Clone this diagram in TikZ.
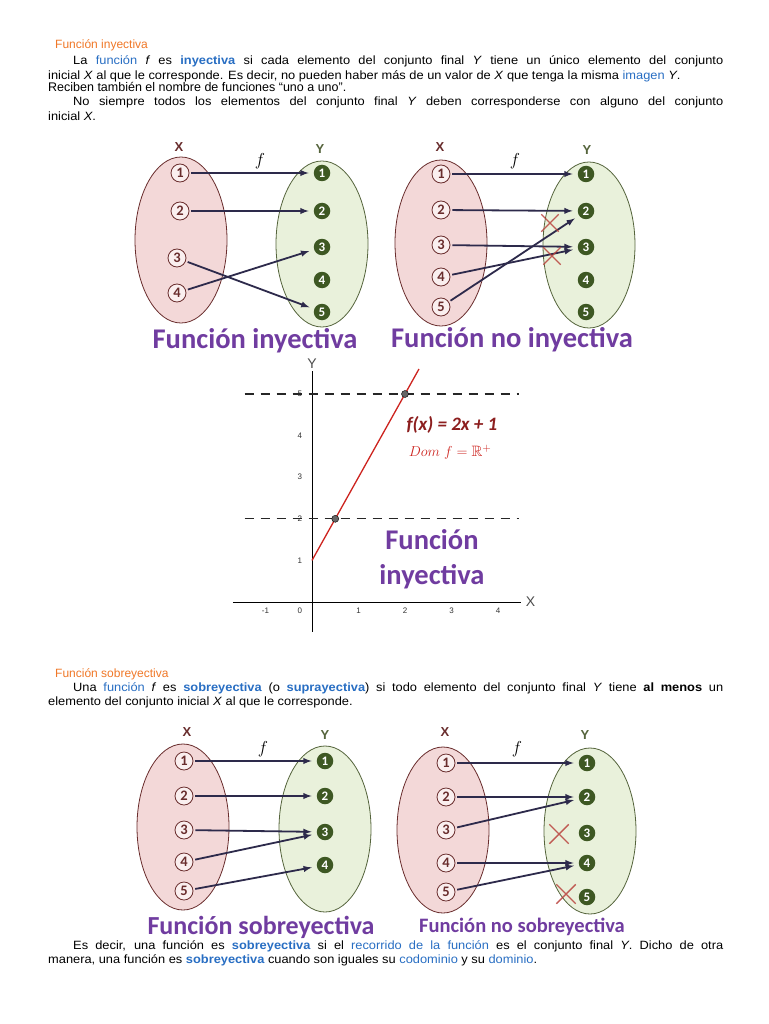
\documentclass[tikz,border=0pt]{standalone}
\usepackage{fontspec}
\usepackage{amssymb}
\setmainfont{Liberation Sans}
\newfontfamily\bodyfont[FakeStretch=1.07]{Liberation Sans}
\newfontfamily\titlefont{Carlito}
\usetikzlibrary{positioning,shapes.geometric,shapes.misc}
\definecolor{myorange}{RGB}{240,120,40}
\definecolor{myblue}{RGB}{40,110,195}
\definecolor{mypurple}{RGB}{112,60,160}
\definecolor{mypink}{RGB}{243,216,216}
\definecolor{mydarkred}{RGB}{105,45,45}
\definecolor{mygreen}{RGB}{233,241,219}
\definecolor{mydarkgreen}{RGB}{62,88,35}
\definecolor{myolive}{RGB}{85,100,60}
\definecolor{myarrow}{RGB}{45,42,75}
\definecolor{mycross}{RGB}{185,65,60}
\definecolor{myline}{RGB}{205,35,30}
\definecolor{myformula}{RGB}{140,30,30}
\newcommand\blu[1]{{\color{myblue}#1}}
\newcommand\bblu[1]{{\color{myblue}\bfseries #1}}

\begin{document}
\begin{tikzpicture}[x=1pt,y=-1pt,
  para/.style={anchor=base west,inner sep=0pt,text width=675pt,align=justify,font=\bodyfont\fontsize{12}{14.5}\selectfont},
  head/.style={anchor=base west,inner sep=0pt,text=myorange,font=\fontsize{12}{14}\selectfont},
  setx/.style={ellipse,draw=mydarkred,fill=mypink,thick,minimum width=92pt,minimum height=166pt},
  sety/.style={ellipse,draw=myolive,fill=mygreen,thick,minimum width=92pt,minimum height=166pt},
  elx/.style={circle,draw=mydarkred,fill=mypink!40!white,thick,text=mydarkred,inner sep=0pt,minimum size=18pt,font=\titlefont\bfseries\fontsize{14.5}{14.5}\selectfont},
  ely/.style={circle,fill=mydarkgreen,text=white,inner sep=0pt,minimum size=16.5pt,font=\titlefont\bfseries\fontsize{13}{13}\selectfont},
  map/.style={myarrow,line width=1.8pt,-latex,shorten <=2pt,shorten >=5pt},
  crossmark/.style={cross out,draw=mycross,line width=1.4pt,minimum size=16pt,inner sep=0pt,opacity=.85},
  lbl/.style={font=\bfseries\fontsize{13}{13}\selectfont},
  fun/.style={font=\fontsize{16}{16}\selectfont},
  title/.style={text=mypurple,font=\titlefont\bfseries\fontsize{28.5}{28.5}\selectfont},
  tick/.style={text=black!80,font=\fontsize{8}{8}\selectfont},
  guide/.style={black!85,line width=1.3pt,dash pattern=on 9pt off 7pt},
  dot/.style={circle,draw=black,fill=black!60,inner sep=0pt,minimum size=7pt}]
\fill[white] (0,0) rectangle (768,1024);
\useasboundingbox (0,0) rectangle (768,1024);

\node[head] (h1) at (55,49) {Función inyectiva};
\node[para] (p1) at (48,65) {\hspace*{25pt}La \blu{función} \textit{f} es \bblu{inyectiva} si cada elemento del conjunto final \textit{Y} tiene un único elemento del conjunto\linebreak inicial \textit{X} al que le corresponde. Es decir, no pueden haber más de un valor de \textit{X} que tenga la misma \blu{imagen} \textit{Y}.};
\node[anchor=base west,inner sep=0pt,font=\fontsize{12.5}{14}\selectfont] (p2) at (48,92) {Reciben también el nombre de funciones “uno a uno”.};
\node[para] (p3) at (48,106) {\hspace*{25pt}No siempre todos los elementos del conjunto final \textit{Y} deben corresponderse con alguno del conjunto\linebreak inicial \textit{X}.};

\node[setx] (iX) at (181,240) {};
\node[sety] (iY) at (322,244) {};
\node[lbl,text=mydarkred] (iXl) at (179,147) {X};
\node[lbl,text=myolive] (iYl) at (320,149) {Y};
\foreach \n/\x/\y in {1/180/173,2/180/211,3/177/258,4/177/293} \node[elx] (ia\n) at (\x,\y) {\n};
\foreach \n/\y in {1/173,2/211,3/247,4/280,5/312} \node[ely] (ib\n) at (322,\y) {\n};
\foreach \a/\b in {1/1,2/2,3/5,4/3} \draw[map] (ia\a) -- (ib\b);
\node[fun] (if) at (260,161) {$f$};
\node[title] (it) at (255,341) {Función inyectiva};

\node[setx] (nX) at (441,243) {};
\node[sety] (nY) at (589,245) {};
\node[lbl,text=mydarkred] (nXl) at (440,147) {X};
\node[lbl,text=myolive] (nYl) at (587,150) {Y};
\foreach \n/\y in {1/174,2/210,3/245,4/277,5/307} \node[elx] (na\n) at (441,\y) {\n};
\foreach \n/\y in {1/174,2/211,3/247,4/280,5/312} \node[ely] (nb\n) at (586,\y) {\n};
\foreach \a/\b in {1/1,2/2,3/3,4/3,5/2} \draw[map] (na\a) -- (nb\b);
\node[crossmark] (nc1) at (550,223) {};
\node[crossmark] (nc2) at (552,256) {};
\node[fun] (nf) at (515,161) {$f$};
\node[title] (nt) at (512,340) {Función no inyectiva};

\begin{scope}[shift={(312,602)},x=46.5pt,y=41.6pt]
\draw[black,thin] (-1.7,0) -- (4.5,0);
\draw[black,thin] (0,-0.72) -- (0,5.55);
\node[font=\fontsize{14}{14}\selectfont,text=black!70] (gx) at (4.7,0) {X};
\node[font=\fontsize{14}{14}\selectfont,text=black!70] (gy) at (0,5.72) {Y};
\foreach \t in {-1,1,2,3,4} \node[tick] (tx\t) at (\t,-0.2) {\t};
\node[tick] (tx0) at (-0.26,-0.2) {0};
\foreach \t in {1,...,5} \node[tick] (ty\t) at (-0.26,\t) {\t};
\draw[guide] (-1.45,2) -- (4.45,2);
\draw[guide] (-1.45,5) -- (4.45,5);
\draw[myline,line width=1.3pt] (0,1) -- (2.3,5.6);
\node[dot] (d1) at (0.5,2) {};
\node[dot] (d2) at (2,5) {};
\node[text=myformula,font=\titlefont\bfseries\itshape\fontsize{19}{19}\selectfont] (fx) at (3.01,4.25) {f(x) = 2x + 1};
\node[text=myline,font=\fontsize{15}{15}\selectfont] (dom) at (2.97,3.6) {$Dom\ f=\mathbb{R}^{+}$};
\node[title] (gt1) at (2.58,1.49) {Función};
\node[title] (gt2) at (2.58,0.6) {inyectiva};
\end{scope}

\node[head] (h2) at (55,677) {Función sobreyectiva};
\node[para] (p4) at (48,691) {\hspace*{25pt}Una \blu{función} \textit{f} es \bblu{sobreyectiva} (o \bblu{suprayectiva}) si todo elemento del conjunto final \textit{Y} tiene \textbf{al menos} un\linebreak elemento del conjunto inicial \textit{X} al que le corresponde.};

\node[setx] (sX) at (183,827) {};
\node[sety] (sY) at (325,829) {};
\node[lbl,text=mydarkred] (sXl) at (187,732) {X};
\node[lbl,text=myolive] (sYl) at (325,735) {Y};
\foreach \n/\y in {1/761,2/796,3/830,4/862,5/891} \node[elx] (sa\n) at (184,\y) {\n};
\foreach \n/\y in {1/761,2/796,3/832,4/865} \node[ely] (sb\n) at (325,\y) {\n};
\foreach \a/\b in {1/1,2/2,3/3,4/3,5/4} \draw[map] (sa\a) -- (sb\b);
\node[fun] (sf) at (263,749) {$f$};
\node[title,font=\titlefont\bfseries\fontsize{26}{26}\selectfont] (st) at (261,927) {Función sobreyectiva};

\node[setx] (tX) at (443,830) {};
\node[sety] (tY) at (590,831) {};
\node[lbl,text=mydarkred] (tXl) at (445,732) {X};
\node[lbl,text=myolive] (tYl) at (585,735) {Y};
\foreach \n/\y in {1/763,2/797,3/830,4/863,5/892} \node[elx] (ta\n) at (446,\y) {\n};
\foreach \n/\y in {1/763,2/797,3/833,4/863,5/897} \node[ely] (tb\n) at (587,\y) {\n};
\foreach \a/\b in {1/1,2/2,3/2,4/4,5/4} \draw[map] (ta\a) -- (tb\b);
\node[crossmark,minimum size=18pt] (tc1) at (559,834) {};
\node[crossmark,minimum size=18pt] (tc2) at (566,894) {};
\node[fun] (tf) at (517,749) {$f$};
\node[title,font=\titlefont\bfseries\fontsize{20.5}{20.5}\selectfont] (tt) at (522,927) {Función no sobreyectiva};

\node[para] (p5) at (48,949) {\hspace*{25pt}Es decir, una función es \bblu{sobreyectiva} si el \blu{recorrido de la función} es el conjunto final \textit{Y}. Dicho de otra\linebreak manera, una función es \bblu{sobreyectiva} cuando son iguales su \blu{codominio} y su \blu{dominio}.};
\end{tikzpicture}
\end{document}
